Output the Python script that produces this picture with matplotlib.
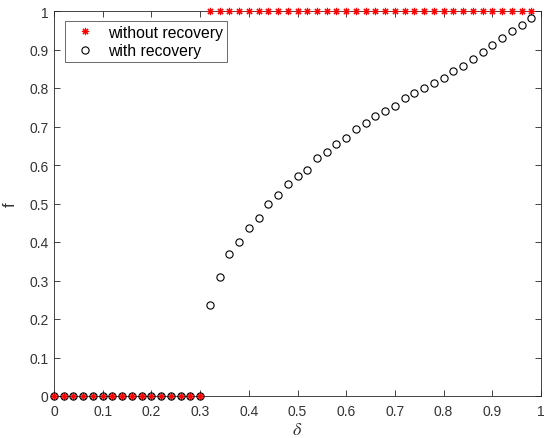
import matplotlib.pyplot as plt
import numpy as np

plt.rcParams['font.family'] = ['Liberation Sans', 'DejaVu Sans']
plt.rcParams['mathtext.fontset'] = 'stix'

# delta grid, step 0.02
delta = np.round(np.arange(0, 0.99, 0.02), 2)

# fraction without recovery: jumps to 1 after delta = 0.30
f_without = [0.0] * 16 + [1.0] * 34

# fraction with recovery
f_with = [0.0] * 16 + [
    0.237, 0.310, 0.369, 0.401, 0.436, 0.462, 0.499, 0.522, 0.551, 0.572,
    0.588, 0.617, 0.635, 0.654, 0.671, 0.693, 0.710, 0.726, 0.741, 0.754,
    0.773, 0.786, 0.801, 0.813, 0.826, 0.844, 0.858, 0.876, 0.894, 0.912,
    0.929, 0.947, 0.964, 0.982,
]

xticks = np.round(np.arange(0, 1.01, 0.1), 1)
yticks = np.round(np.arange(0, 1.01, 0.1), 1)

fig = plt.figure(figsize=(5.44, 4.39), dpi=100)
ax = fig.add_axes([54/544, 42/439, 487/544, 385/439])

axcol = '#262626'
txtcol = '#333333'
ax.plot(delta, f_without, linestyle='none', marker=(8, 2, 0), color='red',
        markersize=5.2, markeredgewidth=0.8, label='without recovery', clip_on=False, zorder=3)
ax.plot(delta, f_with, linestyle='none', marker='o', markerfacecolor='none',
        markeredgecolor='black', markersize=5.2, markeredgewidth=0.8,
        label='with recovery', clip_on=False, zorder=3)

ax.set_xlim(0, 1)
ax.set_ylim(0, 1)
ax.set_xticks(xticks)
ax.set_yticks(yticks)
ax.set_xticklabels(['%g' % v for v in xticks])
ax.set_yticklabels(['%g' % v for v in yticks])
ax.tick_params(direction='in', top=True, right=True, length=4, width=0.6,
               colors=axcol, labelsize=10, labelcolor=txtcol)
ax.tick_params(axis='x', pad=6)
ax.tick_params(axis='y', pad=4)
for s in ax.spines.values():
    s.set_color(axcol)
    s.set_linewidth(0.6)

ax.set_xlabel(r'$\delta$', fontsize=13, color=txtcol, labelpad=2)
ax.set_ylabel('f', fontsize=12, color=txtcol, labelpad=8)

leg = ax.legend(loc='upper left', bbox_to_anchor=(11/487, 375/385), fontsize=11.3,
                frameon=True, fancybox=False, edgecolor=axcol, borderpad=0.25,
                handletextpad=0.5, handlelength=2.0, labelspacing=0.2,
                borderaxespad=0)
leg.get_frame().set_linewidth(0.6)

fig.savefig('out.png', dpi=100)
